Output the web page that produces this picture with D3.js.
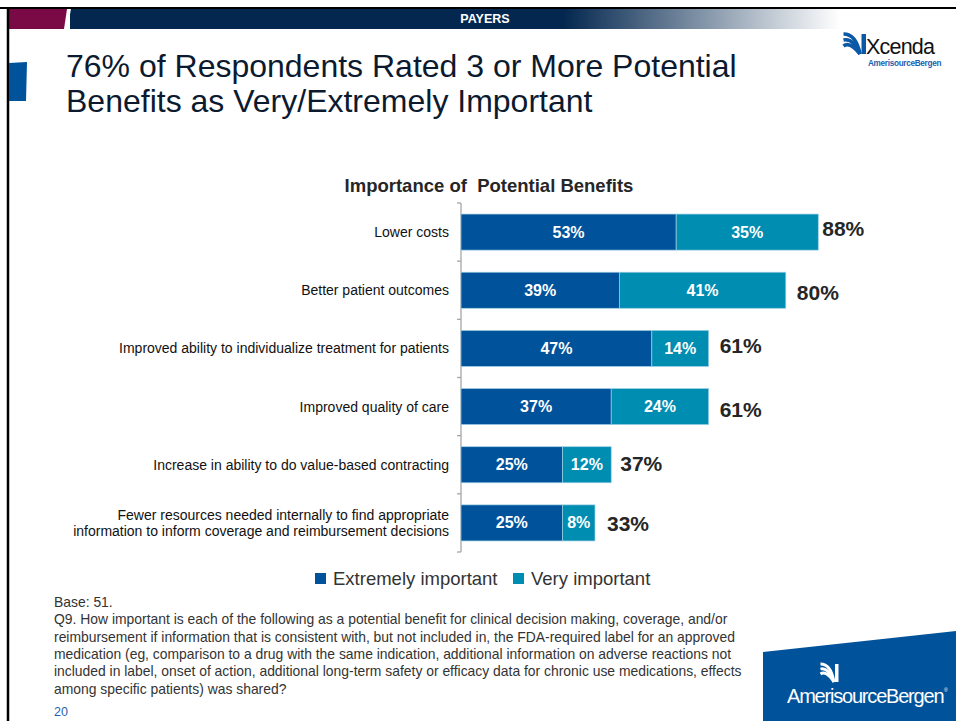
<!DOCTYPE html>
<html>
<head>
<meta charset="utf-8">
<script src="https://cdn.jsdelivr.net/npm/d3@7/dist/d3.min.js"></script>
<style>
  html, body { margin: 0; padding: 0; background: #fff; }
  svg { display: block; font-family: "Liberation Sans", Arial, sans-serif; }
</style>
</head>
<body>
<svg id="slide" width="956" height="721"></svg>
<script>
// Benefit categories (top to bottom) and the two response shares per category
const categories = [
  "Lower costs",
  "Better patient outcomes",
  "Improved ability to individualize treatment for patients",
  "Improved quality of care",
  "Increase in ability to do value-based contracting",
  "Fewer resources needed internally to find appropriate|information to inform coverage and reimbursement decisions"
];
const extremelyImportant = [53, 39, 47, 37, 25, 25];
const veryImportant      = [35, 41, 14, 24, 12, 8];
const totals             = [88, 80, 61, 61, 37, 33];
const seriesNames = ["Extremely important", "Very important"];
const seriesColors = ["#00529b", "#008db2"];

const footnoteLines = [
  "Base: 51.",
  "Q9. How important is each of the following as a potential benefit for clinical decision making, coverage, and/or",
  "reimbursement if information that is consistent with, but not included in, the FDA-required label for an approved",
  "medication (eg, comparison to a drug with the same indication, additional information on adverse reactions not",
  "included in label, onset of action, additional long-term safety or efficacy data for chronic use medications, effects",
  "among specific patients) was shared?"
];

const svg = d3.select("#slide");

// ---------- slide frame and header band ----------
const defs = svg.append("defs");
const grad = defs.append("linearGradient").attr("id", "bandGrad")
  .attr("x1", "0").attr("x2", "1").attr("y1", "0").attr("y2", "0");
grad.append("stop").attr("offset", "0").attr("stop-color", "#03274f");
grad.append("stop").attr("offset", "0.64").attr("stop-color", "#03274f");
grad.append("stop").attr("offset", "1").attr("stop-color", "#ffffff");

svg.append("rect").attr("x", 70).attr("y", 9).attr("width", 770).attr("height", 20)
  .attr("fill", "url(#bandGrad)");
svg.append("polygon").attr("points", "8,9 67,9 64,29 8,29").attr("fill", "#7a0a45");
svg.append("line").attr("x1", 70).attr("y1", 9).attr("x2", 66).attr("y2", 30)
  .attr("stroke", "#fff").attr("stroke-width", 2);
svg.append("text").attr("x", 485).attr("y", 23).attr("text-anchor", "middle")
  .attr("fill", "#fff").attr("font-weight", "bold").attr("font-size", 12.5).text("PAYERS");

svg.append("line").attr("x1", 0).attr("x2", 956).attr("y1", 8).attr("y2", 8)
  .attr("stroke", "#000").attr("stroke-width", 2);
svg.append("line").attr("x1", 8).attr("x2", 8).attr("y1", 7).attr("y2", 721)
  .attr("stroke", "#000").attr("stroke-width", 2.5);

// left accent tab
svg.append("polygon").attr("points", "9,63 27,62 26,101 9,101").attr("fill", "#00529b");

// slide title
const title = svg.append("text").attr("x", 66).attr("fill", "#0c1a2f")
  .attr("font-size", 32);
title.append("tspan").attr("x", 66).attr("y", 77).text("76% of Respondents Rated 3 or More Potential");
title.append("tspan").attr("x", 66).attr("y", 112).text("Benefits as Very/Extremely Important");

// ---------- Xcenda logo (top right) ----------
const logo = svg.append("g").attr("transform", "translate(843,32)");
[0, 6, 12].forEach(o => {
  logo.append("path")
    .attr("d", `M${0.5},${2 + o} Q${13 - o * 0.5},${2 + o * 0.6} ${17},${22}`)
    .attr("fill", "none").attr("stroke", "#0a58a6").attr("stroke-width", 3.6);
});
logo.append("rect").attr("x", 18.5).attr("y", 2).attr("width", 4.5).attr("height", 20).attr("fill", "#0a58a6");
svg.append("text").attr("x", 866).attr("y", 54).attr("font-size", 21.5).attr("fill", "#111")
  .attr("letter-spacing", -0.8).text("Xcenda");
svg.append("text").attr("x", 868).attr("y", 66).attr("font-size", 8.2).attr("font-weight", "bold")
  .attr("fill", "#1b5fb0").attr("letter-spacing", -0.3).text("AmerisourceBergen");

// ---------- chart ----------
const margin = { left: 461, top: 203 };
const plotH = 349;
const y = d3.scaleBand().domain(d3.range(categories.length))
  .range([margin.top, margin.top + plotH]).paddingInner(0.38).paddingOuter(0.19);
const x = d3.scaleLinear().domain([0, 100]).range([margin.left, margin.left + 406]);

svg.append("text").attr("x", 489).attr("y", 192).attr("text-anchor", "middle")
  .attr("font-weight", "bold").attr("font-size", 18.5).attr("fill", "#262626")
  .style("white-space", "pre")
  .text("Importance of  Potential Benefits");

// category axis: vertical line with tick marks at band boundaries
const axisG = svg.append("g");
axisG.append("line").attr("x1", margin.left).attr("x2", margin.left)
  .attr("y1", margin.top).attr("y2", margin.top + plotH).attr("stroke", "#a6a6a6").attr("stroke-width", 1.3);
const step = plotH / categories.length;
d3.range(categories.length + 1).forEach(i => {
  axisG.append("line").attr("x1", margin.left - 4).attr("x2", margin.left)
    .attr("y1", margin.top + i * step).attr("y2", margin.top + i * step)
    .attr("stroke", "#a6a6a6").attr("stroke-width", 1.3);
});

// category labels
categories.forEach((c, i) => {
  const lines = c.split("|");
  const cy = y(i) + y.bandwidth() / 2;
  const t = svg.append("text").attr("text-anchor", "end").attr("font-size", 14).attr("fill", "#111");
  lines.forEach((ln, j) => {
    t.append("tspan").attr("x", 449)
      .attr("y", cy + 5 + (j - (lines.length - 1) / 2) * 16.5).text(ln);
  });
});

// stacked bars
const stackData = categories.map((c, i) => ({ i, a: extremelyImportant[i], b: veryImportant[i] }));
const stacked = d3.stack().keys(["a", "b"])(stackData);
stacked.forEach((layer, k) => {
  const g = svg.append("g");
  g.selectAll("rect").data(layer).join("rect")
    .attr("x", d => x(d[0]))
    .attr("width", d => x(d[1]) - x(d[0]))
    .attr("y", d => y(d.data.i))
    .attr("height", y.bandwidth())
    .attr("fill", seriesColors[k])
    .attr("stroke", "#9fd0e4").attr("stroke-width", 0.7);
  g.selectAll("text").data(layer).join("text")
    .attr("x", d => (x(d[0]) + x(d[1])) / 2)
    .attr("y", d => y(d.data.i) + y.bandwidth() / 2 + 5.5)
    .attr("text-anchor", "middle").attr("fill", "#fff")
    .attr("font-weight", "bold").attr("font-size", 16)
    .text(d => (d[1] - d[0]) + "%");
});

// totals to the right of each bar (text-box placement nudges per row)
const totalDx = [4, 11, 11, 11, 9, 12];
const totalDy = [-3, 3, -2, 3, -1, 1];
svg.append("g").selectAll("text").data(totals).join("text")
  .attr("x", (d, i) => x(extremelyImportant[i] + veryImportant[i]) + totalDx[i])
  .attr("y", (d, i) => y(i) + y.bandwidth() / 2 + 7 + totalDy[i])
  .attr("font-weight", "bold").attr("font-size", 21).attr("fill", "#262626")
  .text(d => d + "%");

// legend
const legend = svg.append("g");
const legendX = [315, 513];
seriesNames.forEach((n, k) => {
  legend.append("rect").attr("x", legendX[k]).attr("y", 573).attr("width", 11).attr("height", 11)
    .attr("fill", seriesColors[k]);
  legend.append("text").attr("x", legendX[k] + 18).attr("y", 585).attr("font-size", 18.5)
    .attr("fill", "#333").text(n);
});

// footnote
const foot = svg.append("text").attr("font-size", 13.9).attr("fill", "#333");
footnoteLines.forEach((ln, j) => {
  foot.append("tspan").attr("x", 54).attr("y", 607 + j * 17.3).text(ln);
});
svg.append("text").attr("x", 54).attr("y", 716).attr("font-size", 12.5).attr("fill", "#1f5fb4").text("20");

// ---------- AmerisourceBergen block (bottom right) ----------
svg.append("polygon").attr("points", "763,652 956,631 956,721 763,721").attr("fill", "#00539b");
const ab = svg.append("g").attr("transform", "translate(820,663)");
[0, 5, 10].forEach(o => {
  ab.append("path")
    .attr("d", `M${0.5},${1 + o} Q${11 - o * 0.5},${1 + o * 0.6} ${14},${19}`)
    .attr("fill", "none").attr("stroke", "#fff").attr("stroke-width", 2.8);
});
ab.append("rect").attr("x", 15).attr("y", 1).attr("width", 3.5).attr("height", 18).attr("fill", "#fff");
svg.append("text").attr("x", 787).attr("y", 703).attr("font-size", 20).attr("fill", "#fff")
  .attr("letter-spacing", -1.2).text("AmerisourceBergen");
svg.append("text").attr("x", 944).attr("y", 692).attr("font-size", 5).attr("fill", "#fff").text("®");
</script>
</body>
</html>
